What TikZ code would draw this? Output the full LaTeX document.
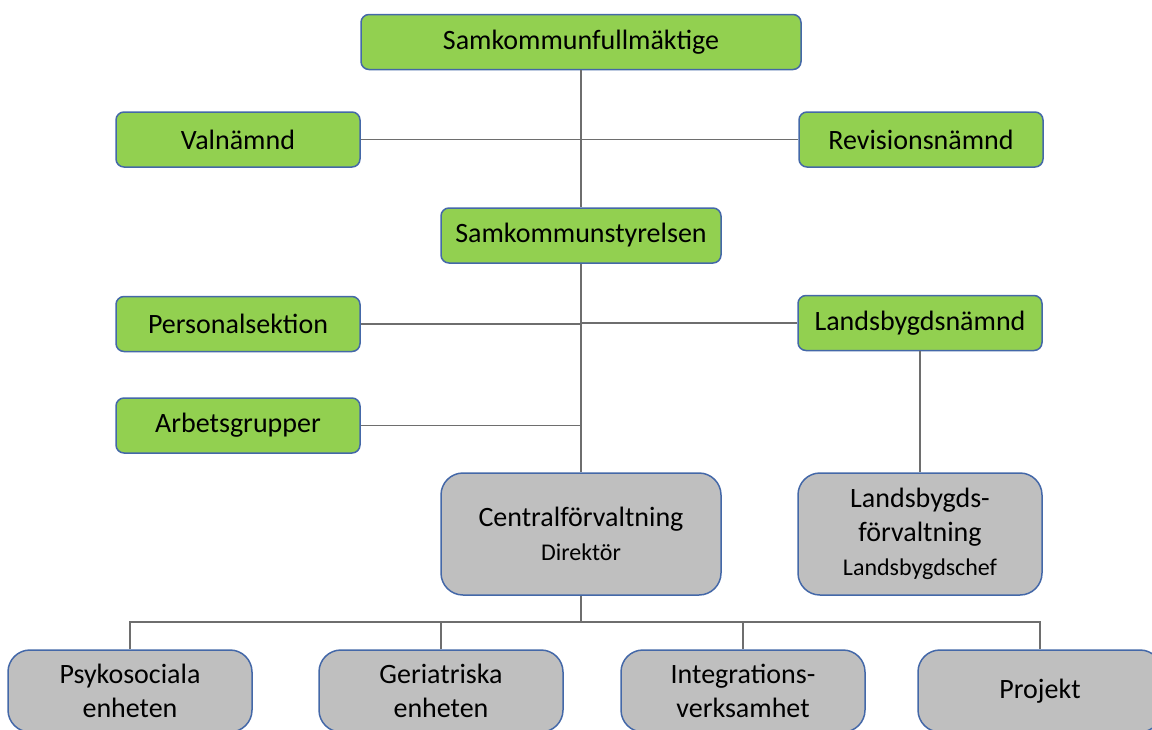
\documentclass[tikz,border=0pt]{standalone}
\usepackage{fontspec}
\setmainfont{Carlito}
\usepackage{tikz}
\definecolor{boxgreen}{RGB}{146,208,80}
\definecolor{boxgray}{RGB}{191,191,191}
\definecolor{boxline}{RGB}{68,104,168}
\definecolor{linkgray}{RGB}{110,110,110}
\newcommand{\smalltext}{\fontsize{12}{15}\selectfont}
\tikzset{
	organ/.style={draw=boxline,line width=0.75pt,fill=boxgreen,rounded corners=4pt,
		minimum width=122pt,minimum height=27.5pt,align=center,inner sep=0pt,
		font=\fontsize{14}{17}\selectfont},
	office/.style={organ,fill=boxgray,rounded corners=11pt,minimum height=61pt},
	unit/.style={office,minimum height=41pt},
	link/.style={draw=linkgray,line width=0.8pt}
}

\begin{document}
\begin{tikzpicture}[x=0.5pt,y=-0.5pt]
	\useasboundingbox (0,0) rectangle (1152,729);
	\clip (0,0) rectangle (1152,729);
	% green boxes
	\node[organ,minimum width=220pt] (full) at (581,42) {Samkommunfullmäktige};
	\node[organ] (valn) at (238,139.5) {Valnämnd};
	\node[organ] (rev) at (921,139.5) {Revisionsnämnd};
	\node[organ,minimum width=140pt] (styr) at (581,235.5) {Samkommunstyrelsen};
	\node[organ] (pers) at (238,324) {Personalsektion};
	\node[organ] (lands) at (920,323) {Landsbygdsnämnd};
	\node[organ] (arb) at (238,425.5) {Arbetsgrupper};
	% gray boxes
	\node[office,minimum width=140pt] (central) at (581,534) {Centralförvaltning\\{\smalltext Direktör}};
	\node[office] (landsf) at (920,534) {Landsbygds-\\förvaltning\\{\smalltext Landsbygdschef}};
	\node[unit] (psyk) at (130,691) {Psykosociala\\enheten};
	\node[unit] (geri) at (441,691) {Geriatriska\\enheten};
	\node[unit] (integ) at (743,691) {Integrations-\\verksamhet};
	\node[unit] (proj) at (1040,691) {Projekt};
	\coordinate (bus) at (581,622);
	
	\draw[link] (full.south) -- (styr.north);
	\draw[link] (valn.east) -- (rev.west);
	\draw[link] (styr.south) -- (central.north);
	\foreach \n in {pers,lands,arb}
	{
		\draw[link] (\n) -- (\n -| styr.south);
	}
	\draw[link] (lands.south) -- (landsf.north);
	\draw[link] (central.south) -- (bus);
	\draw[link] (psyk.north) |- (bus) -| (proj.north);
	\foreach \n in {geri,integ}
	{
		\draw[link] (\n.north) -- (\n.north |- bus);
	}
\end{tikzpicture}
\end{document}
